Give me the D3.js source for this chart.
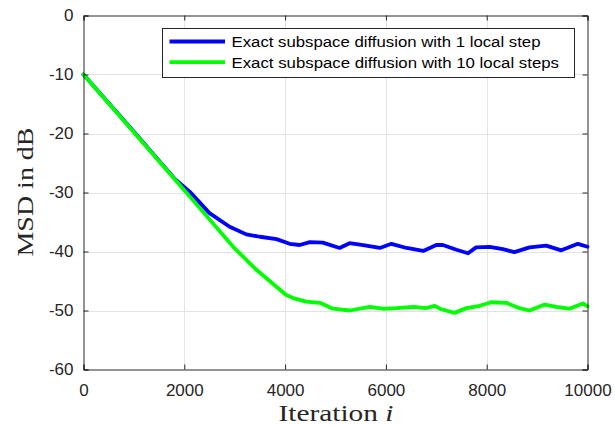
<!DOCTYPE html>
<html><head><meta charset="utf-8">
<script src="https://cdn.jsdelivr.net/npm/d3@7"></script>
<style>body{margin:0;background:#fff}svg{display:block}</style>
</head><body>
<svg id="c" width="615" height="425"></svg>
<script>
const xTicks = [0, 2000, 4000, 6000, 8000, 10000];
const yTicks = [0, -10, -20, -30, -40, -50, -60];
const seriesNames = ["Exact subspace diffusion with 1 local step", "Exact subspace diffusion with 10 local steps"];
const seriesColors = ["#0000ff", "#00ff00"];
const blueIter = [0,1000,1800,2110,2500,2900,3230,3500,3830,4090,4290,4490,4750,5080,5280,5550,5880,6110,6410,6740,7000,7130,7400,7630,7790,8060,8320,8550,8850,9180,9480,9810,10000];
const blueMSD  = [-10,-19.7,-27.6,-29.9,-33.5,-35.8,-37.1,-37.5,-37.9,-38.7,-38.9,-38.4,-38.5,-39.4,-38.6,-38.9,-39.4,-38.7,-39.4,-39.9,-38.9,-38.9,-39.7,-40.3,-39.3,-39.2,-39.6,-40.1,-39.3,-39.0,-39.8,-38.7,-39.2];
const greenIter = [0,1000,2000,2110,2970,3430,4010,4160,4420,4690,4950,5280,5680,5940,6210,6540,6800,6970,7070,7360,7600,7860,8090,8390,8650,8850,9150,9380,9640,9910,10000];
const greenMSD  = [-10,-19.8,-29.6,-30.7,-39.2,-43.1,-47.3,-47.9,-48.5,-48.7,-49.7,-50.0,-49.4,-49.7,-49.6,-49.4,-49.6,-49.2,-49.7,-50.4,-49.6,-49.2,-48.6,-48.7,-49.6,-50.0,-49.0,-49.4,-49.7,-48.8,-49.3];

const svg = d3.select("#c");
const L = 83.5, R = 587.5, T = 15.5, B = 369.5;
const x = d3.scaleLinear().domain([0, 10000]).range([L, R]);
const y = d3.scaleLinear().domain([-60, 0]).range([B, T]);
const axisColor = "#262626";
const tickFont = "Liberation Sans, Arial, sans-serif";

// grid
const g = svg.append("g");
g.selectAll(".gx").data(xTicks.slice(1, -1)).enter().append("line")
  .attr("x1", d => Math.round(x(d)) + 0.5).attr("x2", d => Math.round(x(d)) + 0.5)
  .attr("y1", T).attr("y2", B).attr("stroke", "#e3e3e3").attr("stroke-width", 1);
g.selectAll(".gy").data(yTicks.slice(1, -1)).enter().append("line")
  .attr("y1", d => Math.round(y(d)) + 0.5).attr("y2", d => Math.round(y(d)) + 0.5)
  .attr("x1", L).attr("x2", R).attr("stroke", "#e3e3e3").attr("stroke-width", 1);

// lines
const line = d3.line().x(d => x(d[0])).y(d => y(d[1]));
const series = [d3.zip(blueIter, blueMSD), d3.zip(greenIter, greenMSD)];
series.forEach((s, i) => {
  svg.append("path").datum(s).attr("d", line).attr("fill", "none")
    .attr("stroke", seriesColors[i]).attr("stroke-width", 3.8)
    .attr("stroke-linejoin", "round").attr("stroke-linecap", "round");
});

// axes
const fmt = d => String(d);
const xb = d3.axisBottom(x).tickValues(xTicks).tickSize(-5).tickPadding(14.5).tickFormat(fmt);
const xt = d3.axisTop(x).tickValues(xTicks).tickSize(-5).tickFormat("");
const yl = d3.axisLeft(y).tickValues(yTicks).tickSize(-5).tickPadding(10).tickFormat(fmt);
const yr = d3.axisRight(y).tickValues(yTicks).tickSize(-5).tickFormat("");
[[xb, `translate(0,${B})`], [xt, `translate(0,${T})`], [yl, `translate(${L},0)`], [yr, `translate(${R},0)`]].forEach(([a, tr]) => {
  const ag = svg.append("g").attr("transform", tr).call(a);
  ag.select(".domain").attr("stroke", axisColor);
  ag.selectAll(".tick line").attr("stroke", axisColor);
  ag.selectAll("text").attr("fill", axisColor).style("font-family", tickFont).style("font-size", "17px");
});

// axis labels
svg.append("text").attr("x", 336).attr("y", 420.5).attr("text-anchor", "middle")
  .attr("textLength", 115).attr("lengthAdjust", "spacingAndGlyphs")
  .style("font-family", "Liberation Serif, serif").style("font-size", "23px").attr("fill", "#262626")
  .html('Iteration <tspan font-style="italic">i</tspan>');
svg.append("text").attr("transform", "translate(33,192) rotate(-90)").attr("text-anchor", "middle")
  .attr("textLength", 129).attr("lengthAdjust", "spacingAndGlyphs")
  .style("font-family", "Liberation Serif, serif").style("font-size", "23px").attr("fill", "#262626")
  .text("MSD in dB");

// legend
const lg = svg.append("g");
lg.append("rect").attr("x", 162.5).attr("y", 28.5).attr("width", 412).attr("height", 49)
  .attr("fill", "#fff").attr("stroke", "#262626").attr("stroke-width", 1);
const legendWidths = [309, 327.5];
seriesNames.forEach((n, i) => {
  const yy = 41.5 + i * 20.7;
  lg.append("line").attr("x1", 169.5).attr("x2", 225).attr("y1", yy).attr("y2", yy)
    .attr("stroke", seriesColors[i]).attr("stroke-width", 3.8);
  lg.append("text").attr("x", 231.5).attr("y", yy + 5.3).text(n)
    .attr("textLength", legendWidths[i]).attr("lengthAdjust", "spacingAndGlyphs")
    .style("font-family", tickFont).style("font-size", "15.5px").attr("fill", "#000");
});
</script>
</body></html>
